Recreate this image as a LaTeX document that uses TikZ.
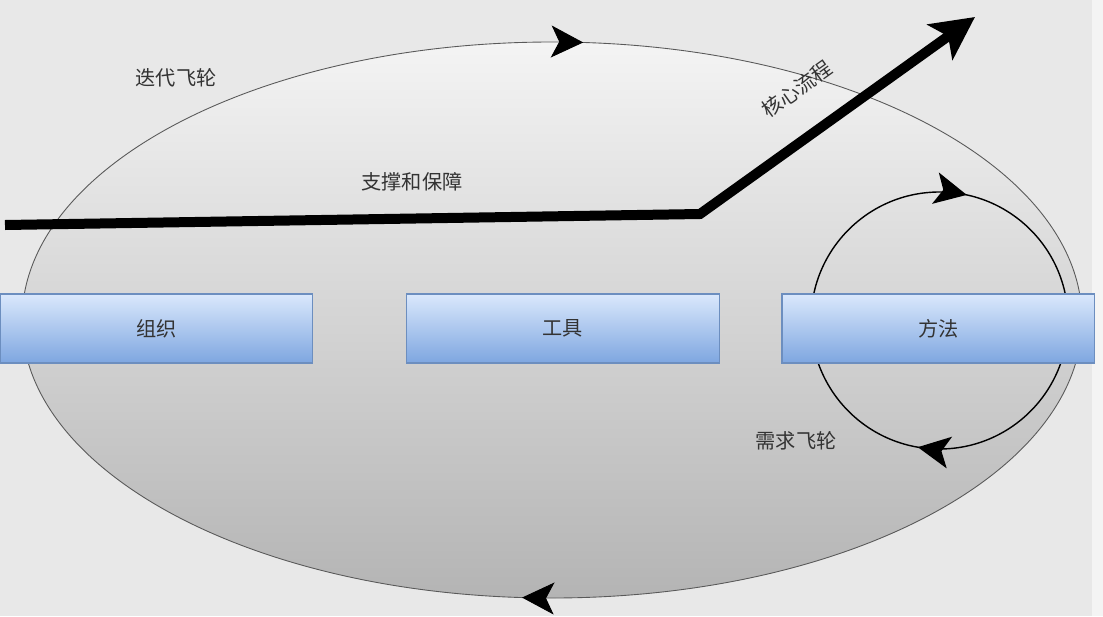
\documentclass[tikz,border=0pt]{standalone}
\usepackage{fontspec}
\setmainfont{Noto Sans CJK SC}
\usepackage{xcolor}
\definecolor{bgpage}{HTML}{E8E8E8}
\definecolor{bgstrip}{HTML}{F4F4F4}
\definecolor{ovaltop}{HTML}{F4F4F4}
\definecolor{ovalbot}{HTML}{B4B4B4}
\definecolor{boxtop}{HTML}{DAE8FC}
\definecolor{boxbot}{HTML}{7EA6E0}
\definecolor{boxline}{HTML}{6C8EBF}
\definecolor{txt}{HTML}{333333}
\usepackage{tikz}
\usetikzlibrary{positioning,arrows.meta,decorations.markings}

\begin{document}
\begin{tikzpicture}[x=0.02cm, y=-0.02cm,
                   every node/.style={text=txt, font=\fontsize{11.5}{14}\selectfont},
                   pillar/.style={draw=boxline, line width=0.6pt, top color=boxtop, bottom color=boxbot,
                                  minimum width=6.26cm, minimum height=1.38cm, inner sep=0pt},
                   oval/.style={draw=gray!70!black, line width=0.5pt, top color=ovaltop, bottom color=ovalbot},
                   spin/.style={draw=black, line width=0.8pt},
                   flow/.style={line width=0.2cm, -{Stealth[length=0.86cm, width=0.86cm, inset=0.2cm]}},
                   heads/.style 2 args={decoration={markings,
                       mark=at position #1 with {\arrow[black]{Stealth[length=0.64cm, width=0.64cm, inset=0.16cm]}},
                       mark=at position #2 with {\arrow[black]{Stealth[length=0.64cm, width=0.64cm, inset=0.16cm]}}},
                       postaction={decorate}}]
    \useasboundingbox (0,0) rectangle (1103,616);
    \fill[bgpage] (0,0) rectangle (1103,616);
    \fill[bgstrip] (1092,0) rectangle (1103,616);
    % iteration flywheel
    \path[oval, heads={0.2615}{0.762}] (552,320) ellipse [x radius=530, y radius=278];
    % demand flywheel
    \path[spin, heads={0.277}{0.784}] (939.5,320.5) circle [radius=128.5];
    % core flow
    \coordinate (start) at (5,225);
    \coordinate (bend) at (700,214);
    \coordinate (tip) at (975,17);
    \draw[flow] (start) -- (bend) -- (tip);
    \node[pillar] (org) at (156.5,328.5) {组织};
    \node[pillar, right=1.85cm of org] (tool) {工具};
    \node[pillar, right=1.23cm of tool] (meth) {方法};
    \node (iter) at (176,78) {迭代飞轮};
    \node (support) at (412,182) {支撑和保障};
    \node[rotate=35.5] (core) at (797,89) {核心流程};
    \node (demand) at (796,441) {需求飞轮};
\end{tikzpicture}
\end{document}
